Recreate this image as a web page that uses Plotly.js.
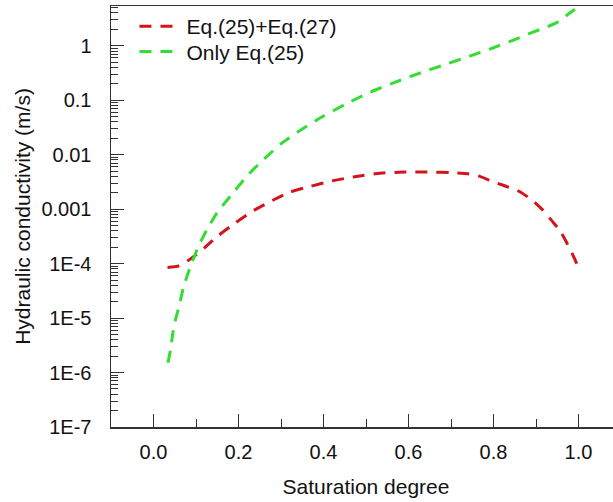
<!DOCTYPE html>
<html>
<head>
<meta charset="utf-8">
<script src="https://cdn.plot.ly/plotly-3.0.1.min.js"></script>
<style>
html, body { margin: 0; padding: 0; overflow: hidden; background: #fff; }
#chart { width: 621px; height: 502px; }
</style>
</head>
<body>
<div id="chart"></div>
<script>
// Series: Eq.(25)+Eq.(27)
const redX = [0.033, 0.06, 0.08, 0.10, 0.12, 0.15, 0.19, 0.228, 0.27, 0.32, 0.37, 0.415, 0.47, 0.533, 0.59, 0.65, 0.70, 0.74, 0.768, 0.80, 0.833, 0.862, 0.89, 0.915, 0.939, 0.955, 0.972, 0.986, 1.0];
const redY = [8.5e-5, 9.1e-5, 1.12e-4, 1.45e-4, 1.95e-4, 3.16e-4, 5.4e-4, 8.7e-4, 1.32e-3, 2.04e-3, 2.63e-3, 3.24e-3, 3.9e-3, 4.57e-3, 4.79e-3, 4.79e-3, 4.68e-3, 4.47e-3, 4.0e-3, 3.16e-3, 2.57e-3, 2.09e-3, 1.48e-3, 9.8e-4, 5.9e-4, 4.17e-4, 2.45e-4, 1.48e-4, 8.5e-5];

// Series: Only Eq.(25)
const greenX = [0.034, 0.04, 0.048, 0.06, 0.071, 0.087, 0.106, 0.126, 0.15, 0.181, 0.225, 0.26, 0.305, 0.35, 0.4, 0.45, 0.51, 0.565, 0.62, 0.68, 0.744, 0.80, 0.85, 0.89, 0.92, 0.948, 0.974, 1.0];
const greenY = [1.51e-6, 2.63e-6, 7.08e-6, 1.62e-5, 3.8e-5, 8.9e-5, 2.09e-4, 4.27e-4, 8.7e-4, 1.74e-3, 4.47e-3, 8.3e-3, 0.017, 0.0295, 0.0513, 0.083, 0.141, 0.209, 0.302, 0.436, 0.646, 0.92, 1.30, 1.74, 2.14, 2.63, 3.72, 5.25];

const seriesNames = ["Eq.(25)+Eq.(27)", "Only Eq.(25)"];

// Axis tick labels
const yTickVals = [1, 0.1, 0.01, 0.001, 1e-4, 1e-5, 1e-6, 1e-7];
const yTickText = ["1", "0.1", "0.01", "0.001", "1E-4", "1E-5", "1E-6", "1E-7"];

const xTitle = "Saturation degree";
const yTitle = "Hydraulic conductivity (m/s)";

// minor log ticks (2..9 in every decade)
const yMinor = [];
for (let d = -7; d <= 0; d++) {
  for (let k = 2; k <= 9; k++) yMinor.push(k * Math.pow(10, d));
}

const FONT = "Liberation Sans, Arial, sans-serif";
const AX = "#333333";
const TXT = "#111111";

const traces = [
  {
    x: redX, y: redY, name: seriesNames[0], type: "scatter", mode: "lines", legend: "legend",
    line: { color: "#d4141c", width: 3, dash: "12px,9px", shape: "spline", smoothing: 0.6 }
  },
  {
    x: greenX, y: greenY, name: seriesNames[1], type: "scatter", mode: "lines", legend: "legend2",
    line: { color: "#33dd33", width: 3, dash: "12px,9px", shape: "spline", smoothing: 0.6 }
  }
];

const legendBase = {
  xanchor: "left", yanchor: "top",
  bgcolor: "rgba(0,0,0,0)", borderwidth: 0,
  font: { family: FONT, size: 21, color: TXT },
  itemwidth: 42
};

const layout = {
  width: 621, height: 502,
  margin: { l: 111, r: 0, t: 6, b: 75 },
  paper_bgcolor: "#ffffff", plot_bgcolor: "#ffffff",
  font: { family: FONT, size: 20, color: TXT },
  showlegend: true,
  legend: Object.assign({}, legendBase, { x: 0.046, y: 1.0 }),
  legend2: Object.assign({}, legendBase, { x: 0.046, y: 0.94 }),
  xaxis: {
    range: [-0.1, 1.1],
    tickmode: "linear", tick0: 0, dtick: 0.2, tickformat: ".1f",
    ticks: "inside", ticklen: 13, tickwidth: 1, tickcolor: AX,
    minor: { ticks: "inside", ticklen: 8, tickwidth: 1, tickcolor: AX, tick0: 0, dtick: 0.1 },
    showline: true, linecolor: AX, linewidth: 1.5, mirror: true,
    showgrid: false, zeroline: false,
    ticklabelstandoff: 6,
    tickfont: { family: FONT, size: 20, color: TXT },
    title: { text: xTitle, font: { family: FONT, size: 21, color: TXT }, standoff: 18 },
    automargin: false
  },
  yaxis: {
    type: "log",
    range: [-7, 0.73],
    tickmode: "array", tickvals: yTickVals, ticktext: yTickText,
    ticks: "inside", ticklen: 13, tickwidth: 1, tickcolor: AX,
    minor: { ticks: "inside", ticklen: 7, tickwidth: 1, tickcolor: AX, tickmode: "array", tickvals: yMinor },
    showline: true, linecolor: AX, linewidth: 1.5, mirror: false,
    showgrid: false, zeroline: false,
    ticklabelstandoff: 14,
    tickfont: { family: FONT, size: 20, color: TXT },
    title: { text: yTitle, font: { family: FONT, size: 21, color: TXT }, standoff: 5 },
    automargin: false
  }
};

Plotly.newPlot("chart", traces, layout, { displayModeBar: false, staticPlot: true });
</script>
</body>
</html>
